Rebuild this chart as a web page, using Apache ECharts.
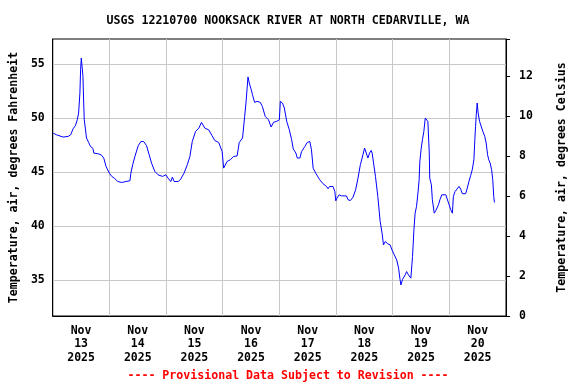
<!DOCTYPE html>
<html>
<head>
<meta charset="utf-8">
<script src="https://cdn.jsdelivr.net/npm/echarts@6/dist/echarts.min.js"></script>
<style>html,body{margin:0;padding:0;background:#fff}#c{width:576px;height:384px}</style>
</head>
<body>
<div id="c"></div>
<script>
// Hours since Nov 13 2025 00:00
const hours = [0.2,1.6,2.3,4.4,5.1,6.5,7.6,8.6,9.6,10.4,10.95,11.5,11.8,12.1,12.5,12.8,13.05,13.35,13.8,14.3,15.2,16.0,17.0,17.4,19.1,20.5,21.6,22.6,24.0,25.0,26.1,27.5,29.2,31.0,32.7,33.1,33.85,34.8,36.2,37.35,38.5,39.75,40.85,41.85,43.25,44.6,46.5,47.9,48.85,50.0,50.7,51.4,53.2,54.2,55.6,57.0,58.1,59.1,60.5,61.9,63.0,63.75,64.4,66.1,67.5,68.6,70.3,71.0,71.75,72.4,72.8,73.85,75.2,76.6,78.1,79.0,80.4,81.3,81.85,82.7,83.25,84.1,84.6,85.5,86.5,87.9,88.8,90.0,91.4,92.5,93.5,94.9,96.0,96.4,97.3,98.1,99.1,100.2,101.2,101.9,103.0,103.6,104.7,105.4,106.8,107.8,108.9,109.6,110.3,111.4,112.4,113.1,114.5,116.0,116.6,117.3,118.0,118.7,119.5,119.9,120.4,121.3,122.3,124.4,125.1,126.1,127.2,128.3,129.3,130.3,131.4,132.1,132.8,133.5,134.2,134.9,135.3,135.9,136.7,137.7,138.7,139.5,140.1,140.9,141.9,142.9,143.7,144.7,145.7,146.5,147.1,147.5,148.2,149.3,149.9,150.7,151.7,152.4,153.0,153.5,154.1,154.7,155.2,155.5,156.1,156.6,157.2,157.8,158.3,158.9,159.5,159.7,160.4,160.8,161.6,162.3,163.4,164.0,164.8,165.5,166.5,167.2,167.9,168.6,169.3,169.7,170.4,171.1,172.1,172.8,173.5,174.9,175.6,176.3,177.0,177.7,178.4,178.8,179.1,179.4,179.8,180.2,180.8,181.6,182.2,183.0,183.6,184.2,184.7,185.3,185.9,186.4,186.8,187.1];
const tempF = [48.6,48.45,48.3,48.24,48.1,48.3,48.45,49.0,49.3,49.85,50.46,52.3,54.47,55.55,55.4,53.85,51.85,49.84,49.07,48.15,47.74,47.37,47.2,46.76,46.7,46.6,46.3,45.5,44.9,44.6,44.44,44.13,44.04,44.13,44.2,44.9,45.68,46.44,47.44,47.83,47.83,47.44,46.6,45.83,45.06,44.75,44.6,44.75,44.44,44.13,44.54,44.13,44.13,44.35,44.9,45.68,46.44,47.83,48.76,49.07,49.6,49.7,49.07,48.9,48.36,47.93,47.74,47.74,46.9,45.37,45.28,45.98,46.14,46.44,46.5,47.74,48.15,50.15,51.39,53.8,53.24,52.62,52.16,51.45,51.54,51.45,51.07,50.15,49.84,49.17,49.6,49.7,49.84,51.54,51.39,50.93,49.7,48.92,47.99,47.13,46.76,46.3,46.3,46.9,47.37,47.74,47.83,47.06,45.37,44.9,44.54,44.29,43.92,43.67,43.46,43.67,43.52,43.67,43.2,42.34,42.59,42.9,42.8,42.8,42.44,42.37,42.68,43.36,44.44,45.68,46.6,47.22,47.06,46.3,46.76,47.0,46.76,45.83,44.6,42.74,40.43,39.35,38.27,38.58,38.36,38.27,37.8,37.34,36.88,36.11,35.09,34.56,35.09,35.49,35.8,35.49,35.19,37.19,39.66,41.2,41.82,43.06,44.29,45.98,47.22,47.99,48.76,50.0,49.84,49.69,46.76,44.44,43.82,42.44,41.2,41.45,41.98,42.44,42.9,42.74,42.9,42.8,41.98,41.51,41.2,42.74,43.2,43.36,43.67,43.43,43.0,43.0,43.52,44.13,44.66,45.21,46.14,47.99,49.22,50.3,51.39,50.46,49.69,49.6,48.76,48.3,47.69,46.6,46.14,45.83,45.21,44.29,42.74,42.19];
const dayNumbers = [13,14,15,16,17,18,19,20];
const dayLabelHours = [12,36,60,84,108,132,156,180];
const fTicks = [35,40,45,50,55];
const cTicks = [0,2,4,6,8,10,12];

const font = 'DejaVu Sans Mono';
const chart = echarts.init(document.getElementById('c'), null, {renderer:'canvas'});
const data = hours.map((h,i)=>[h, tempF[i]]);

chart.setOption({
  animation:false,
  backgroundColor:'#ffffff',
  title:{
    text:'USGS 12210700 NOOKSACK RIVER AT NORTH CEDARVILLE, WA',
    left:'center', top:10,
    textStyle:{fontFamily:font, fontWeight:'bold', fontSize:11.6, color:'#000'}
  },
  graphic:[{
    type:'text', left:'center', top:370,
    style:{text:'---- Provisional Data Subject to Revision ----', fontFamily:font, fontWeight:'bold', fontSize:11.6, fill:'#ff0000'}
  }],
  grid:{left:52, right:70, top:39, bottom:68, show:true, borderColor:'#000', borderWidth:1, backgroundColor:'transparent'},
  xAxis:{
    type:'value', min:0, max:192, interval:24,
    axisLine:{show:true, lineStyle:{color:'#000', width:1}},
    axisTick:{show:false},
    splitLine:{show:true, lineStyle:{color:'#c8c8c8', width:1}},
    axisLabel:{
      customValues:dayLabelHours,
      formatter:(v)=>{ const i = dayLabelHours.indexOf(v); return i>=0 ? 'Nov\n'+dayNumbers[i]+'\n2025' : ''; },
      fontFamily:font, fontWeight:'bold', fontSize:11.5, color:'#000', lineHeight:13.5, margin:8
    }
  },
  yAxis:[{
    type:'value', min:31.69, max:57.31, position:'left',
    name:'Temperature, air, degrees Fahrenheit', nameLocation:'middle', nameGap:31,
    nameTextStyle:{fontFamily:font, fontWeight:'bold', fontSize:11.6, color:'#000'},
    axisLine:{show:true, lineStyle:{color:'#000'}},
    axisTick:{show:false, customValues:fTicks},
    splitLine:{show:true, lineStyle:{color:'#c8c8c8', width:1}},
    axisLabel:{customValues:fTicks, fontFamily:font, fontWeight:'bold', fontSize:11.5, color:'#000', margin:8}
  },{
    type:'value', min:0, max:13.87, interval:2, position:'right',
    name:'Temperature, air, degrees Celsius', nameLocation:'middle', nameGap:50,
    nameTextStyle:{fontFamily:font, fontWeight:'bold', fontSize:11.6, color:'#000'},
    axisLine:{show:true, lineStyle:{color:'#000'}},
    axisTick:{show:true, length:4, inside:false, lineStyle:{color:'#000'}},
    splitLine:{show:false},
    axisLabel:{fontFamily:font, fontWeight:'bold', fontSize:11.5, color:'#000', margin:13,
      formatter:(v)=> cTicks.indexOf(v)>=0 ? String(v) : ''}
  }],
  series:[{
    type:'line', data:data, yAxisIndex:0, showSymbol:false, symbol:'none',
    lineStyle:{color:'#0000ff', width:1}
  }]
});
</script>
</body>
</html>
